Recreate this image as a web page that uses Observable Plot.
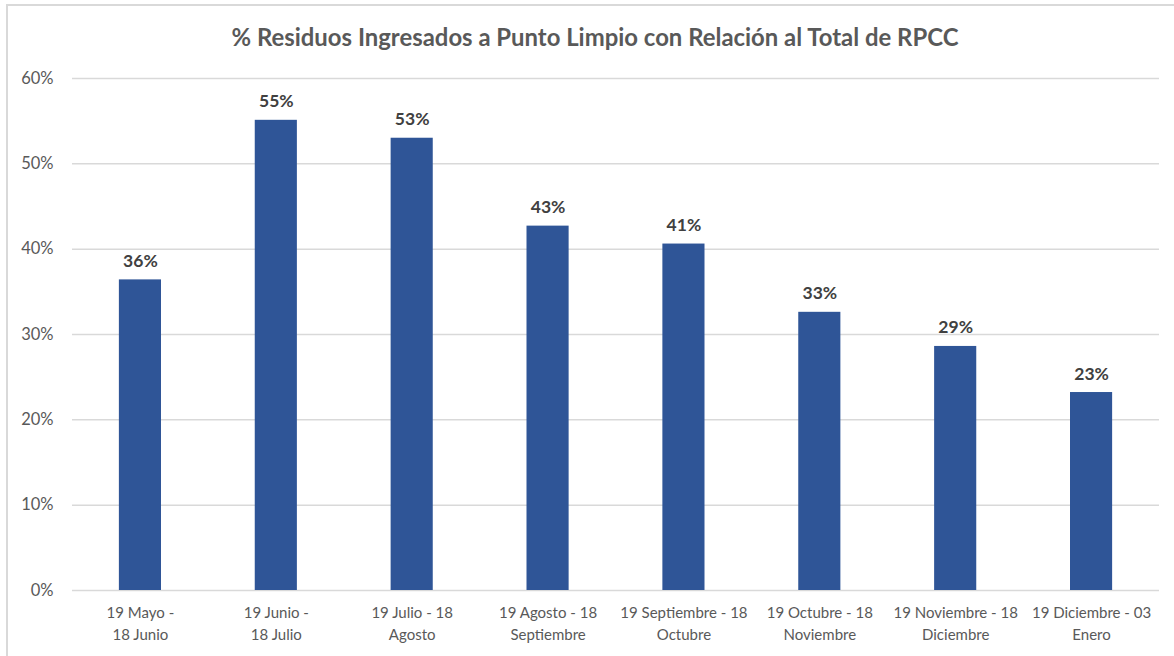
<!DOCTYPE html>
<html>
<head>
<meta charset="utf-8">
<script src="https://cdn.jsdelivr.net/npm/d3@7"></script>
<script src="https://cdn.jsdelivr.net/npm/@observablehq/plot@0.6"></script>
<style>
  html, body { margin: 0; padding: 0; background: #fff; }
  #wrap { position: relative; width: 1174px; height: 656px; overflow: hidden; font-family: Lato, "Open Sans", sans-serif; }
  #frame { position: absolute; left: 6px; top: 4px; right: 0; bottom: 0; border-top: 2px solid #d9d9d9; border-left: 2px solid #d9d9d9; pointer-events: none; }
  #title { position: relative; height: 60px; box-sizing: border-box; padding-top: 24px; text-align: center; font-size: 23.9px; line-height: 26px; font-weight: bold; color: #595959; padding-left: 16px; }
  #chart svg { display: block; }
</style>
</head>
<body>
<div id="wrap">
  <div id="frame"></div>
  <div id="title">% Residuos Ingresados a Punto Limpio con Relación al Total de RPCC</div>
  <div id="chart"></div>
</div>
<script>
const categories = [
  "19 Mayo -\n18 Junio",
  "19 Junio -\n18 Julio",
  "19 Julio - 18\nAgosto",
  "19 Agosto - 18\nSeptiembre",
  "19 Septiembre - 18\nOctubre",
  "19 Octubre - 18\nNoviembre",
  "19 Noviembre - 18\nDiciembre",
  "19 Diciembre - 03\nEnero"
];
const values = [36.4, 55.1, 53.0, 42.7, 40.6, 32.6, 28.6, 23.2];
const yTicks = [0, 10, 20, 30, 40, 50, 60];

const data = categories.map((c, i) => ({category: c, value: values[i]}));

const chart = Plot.plot({
  width: 1174,
  height: 596,
  marginTop: 18,
  marginBottom: 66,
  marginLeft: 72,
  marginRight: 15,
  style: { fontFamily: "Lato, 'Open Sans', sans-serif", background: "transparent", overflow: "visible" },
  x: { domain: categories, paddingInner: 0.69, paddingOuter: 0.345, round: false, label: null },
  y: { domain: [0, 60], label: null },
  marks: [
    Plot.gridY(yTicks, { stroke: "#d9d9d9", strokeOpacity: 1, strokeWidth: 1.5 }),
    Plot.axisY(yTicks, { tickSize: 0, tickPadding: 19, tickFormat: d => d + "%", fontSize: 16.5, fill: "#595959", label: null }),
    Plot.axisX({ tickSize: 0, tickPadding: 12, fontSize: 15, fill: "#595959", lineHeight: 1.45, label: null }),
    Plot.barY(data, { x: "category", y: "value", fill: "#2f5597" }),
    Plot.text(data, { x: "category", y: "value", text: d => Math.round(d.value) + "%", lineAnchor: "bottom", dy: -13, fontSize: 17.5, fontWeight: "bold", fill: "#404040" })
  ]
});
document.getElementById("chart").appendChild(chart);
</script>
</body>
</html>
